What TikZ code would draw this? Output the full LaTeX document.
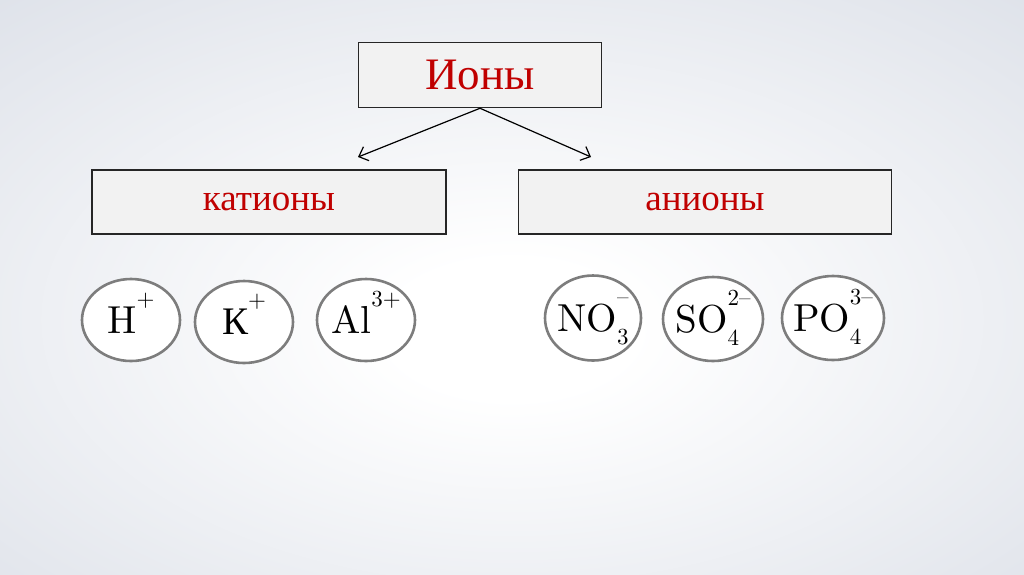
\documentclass[tikz,border=0pt]{standalone}
\usepackage{fontspec}
\usetikzlibrary{shapes.geometric,arrows.meta}
\newfontfamily\cyrfont{Liberation Serif}
\newfontfamily\ionfont{lmroman10-regular}[Extension=.otf,Ligatures=TeX]
\definecolor{ionred}{RGB}{192,0,0}
\definecolor{boxgray}{RGB}{242,242,242}
\definecolor{rimgray}{RGB}{125,125,125}
\definecolor{bgedge}{RGB}{220,224,232}
\pgfdeclareradialshading{slidebg}{\pgfpoint{0bp}{-4bp}}{color(0bp)=(white); color(6bp)=(white); color(40bp)=(bgedge); color(80bp)=(bgedge)}
% formula with stacked charge and index
\newcommand{\chemion}[3]{\makebox[0pt]{#1\smash{\fontsize{23}{23}\selectfont
  \setbox0=\hbox{#2}\setbox2=\hbox{#3}%
  \ifdim\wd0>\wd2 \wd2=\wd0 \fi
  \rlap{\raisebox{-13pt}{\copy0}}\raisebox{27pt}{\box2}}}}
\begin{document}
\begin{tikzpicture}[x=1pt,y=-1pt,
    headbox/.style={draw=black!85,line width=1.5pt,fill=boxgray,
      minimum width=243pt,minimum height=65pt,text=ionred,
      font=\cyrfont\fontsize{45}{45}\selectfont},
    groupbox/.style={draw=black!85,line width=1.5pt,fill=boxgray,
      minimum width=#1,minimum height=64pt,text=ionred,
      font=\cyrfont\fontsize{37}{37}\selectfont},
    ionoval/.style={ellipse,draw=rimgray,line width=2.6pt,fill=white,
      minimum width=98pt,minimum height=82pt,inner sep=0pt,
      font=\ionfont\fontsize{39}{39}\selectfont}]
  \useasboundingbox (0,0) rectangle (1024,574);
  \shade[shading=slidebg] (0,0) rectangle (1024,574);
  \draw
    (480,75) node[headbox] (ions){Ионы}
    (269,202) node[groupbox=354pt] (cations){катионы}
    (705,202) node[groupbox=373pt] (anions){анионы}
    (358,157) coordinate (catin)
    (591,157) coordinate (anin);
  \draw
    (131,320) node[ionoval] (h){\chemion{H}{}{+}}
    (244,322) node[ionoval] (k){\chemion{{\cyrfont К}}{}{+}}
    (366,320) node[ionoval] (al){\chemion{Al}{}{3+}}
    (593,318) node[ionoval,minimum width=96pt,minimum height=85pt] (no){\chemion{NO}{3}{–}}
    (713,319) node[ionoval,minimum width=100pt,minimum height=84pt] (so){\chemion{SO}{4}{2–}}
    (833,318) node[ionoval,minimum width=102pt,minimum height=84pt] (po){\chemion{PO}{4}{3–}};
  \begin{scope}[line width=1.2pt,-{Straight Barb[length=8pt,width=15pt]}]
    \draw (ions.south) to (catin);
    \draw (ions.south) to (anin);
  \end{scope}
\end{tikzpicture}
\end{document}
